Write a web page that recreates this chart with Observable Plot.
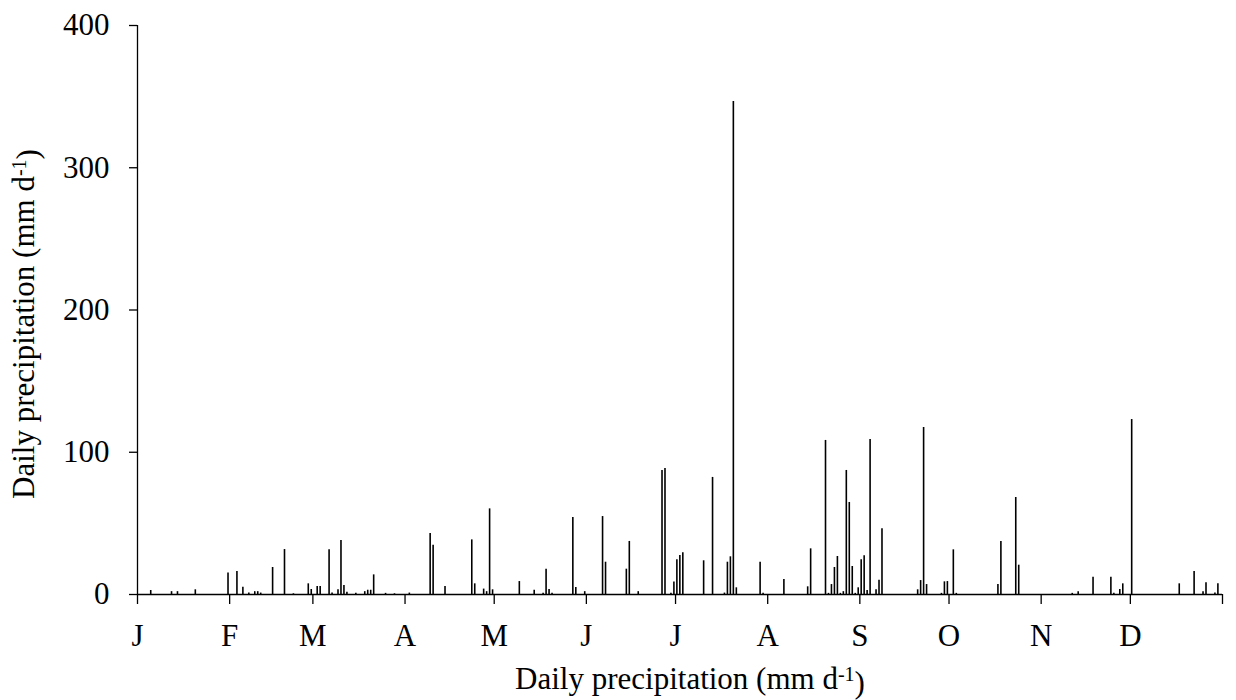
<!DOCTYPE html>
<html>
<head>
<meta charset="utf-8">
<script src="https://cdn.jsdelivr.net/npm/d3@7"></script>
<script src="https://cdn.jsdelivr.net/npm/@observablehq/plot@0.6"></script>
<style>
  html, body { margin: 0; padding: 0; background: #fff; }
  #chart svg { display: block; }
</style>
</head>
<body>
<div id="chart"></div>
<script>
const days = [4,11,13,19,30,33,35,37,39,40,41,45,49,52,57,58,60,61,64,65,67,68,69,70,73,76,77,78,79,83,86,91,98,99,103,112,113,116,117,118,119,128,133,136,137,138,139,146,147,150,156,157,164,165,168,176,177,179,180,181,182,183,190,193,197,198,199,200,201,209,210,217,225,226,231,232,233,234,235,236,237,238,239,240,241,242,243,244,245,246,248,249,250,262,263,264,265,270,271,272,274,275,289,290,295,296,314,316,321,327,328,330,331,334,350,355,358,359,362,363];
const values = [2.8,2,2,3.3,15.2,16.2,5.1,1,2,2,1,19,31.6,0.5,7.5,3.5,5.6,5.6,31.4,1,3.3,38,6.3,1.5,0.8,2,3,3,13.8,0.8,0.5,1,42.9,34.7,5.6,38.4,7.5,3.8,2,60.2,3.3,9.1,3,0.8,17.8,3.5,0.8,54.1,4.9,2,54.8,22.7,17.8,37.3,2,87.2,88.6,0.8,8.7,24.4,27.4,29.3,23.7,82.3,1,22.7,26.5,346.6,4.7,22.7,0.8,10.5,5.4,32.1,108.3,0.8,7,19,26.7,0.8,2,87.2,64.7,19.7,0.8,4.7,24.4,27.2,2.8,109,3.3,10,46.2,3.3,9.8,117.4,7,0.8,8.9,9.1,31.4,0.8,7,37.3,68.2,20.6,0.8,2,12.2,12.2,0.8,3.5,7.5,123,7.5,16.2,2,8.2,1,7.5];
const monthStarts = [0,31,59,90,120,151,181,212,243,273,304,334,365];
const monthLabels = ["J","F","M","A","M","J","J","A","S","O","N","D",""];
const yTicks = [0,100,200,300,400];

const data = days.map((d, i) => ({day: d, value: values[i]}));
const FONT = "'Liberation Serif', 'Times New Roman', serif";
const FS = 31;

const chart = Plot.plot({
  width: 1236,
  height: 700,
  marginLeft: 137,
  marginRight: 14,
  marginTop: 25,
  marginBottom: 106,
  style: {fontFamily: FONT, color: "#000", background: "#fff"},
  x: {domain: [0, 365]},
  y: {domain: [0, 400]},
  marks: [
    Plot.ruleX(data, {x: d => d.day + 0.45, y1: 0, y2: "value", stroke: "#000", strokeWidth: 1.6}),
    Plot.axisX({ticks: monthStarts, tickFormat: d => monthLabels[monthStarts.indexOf(d)], tickSize: 10, tickPadding: 19, fontSize: FS, label: null, stroke: "#000", strokeWidth: 1.3}),
    Plot.axisY({ticks: yTicks, tickSize: 8, tickPadding: 20, fontSize: FS, label: null, stroke: "#000", strokeWidth: 1.3}),
    Plot.ruleY([0], {stroke: "#000", strokeWidth: 1.3}),
    Plot.ruleX([0], {stroke: "#000", strokeWidth: 1.3})
  ]
});

const svg = d3.select(chart);
function addLabel(x, y, rotate) {
  const t = svg.append("text")
    .attr("transform", `translate(${x},${y})` + (rotate ? " rotate(-90)" : ""))
    .attr("text-anchor", "middle")
    .attr("font-family", FONT)
    .attr("font-size", FS)
    .attr("fill", "#000");
  t.append("tspan").text("Daily precipitation (mm d");
  t.append("tspan").attr("dy", "-0.4em").attr("font-size", 20).text("-1");
  t.append("tspan").attr("dy", "0.4em").text(")");
}
addLabel(690, 689, false);
addLabel(34, 324, true);

document.getElementById("chart").appendChild(chart);
</script>
</body>
</html>
